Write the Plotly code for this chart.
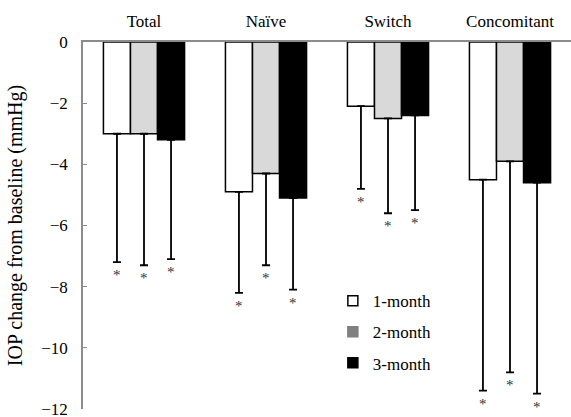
import plotly.graph_objects as go

categories = ["Total", "Naïve", "Switch", "Concomitant"]
series_names = ["1-month", "2-month", "3-month"]

# mean IOP change (mmHg)
month1 = [-3.0, -4.9, -2.1, -4.5]
month2 = [-3.0, -4.3, -2.5, -3.9]
month3 = [-3.2, -5.1, -2.4, -4.6]

# SD (one-sided, downward)
sd1 = [4.2, 3.3, 2.7, 6.9]
sd2 = [4.3, 3.0, 3.1, 6.9]
sd3 = [3.9, 3.0, 3.1, 6.9]

bar_colors = ["#ffffff", "#d9d9d9", "#000000"]
legend_colors = ["#ffffff", "#808080", "#000000"]

W, H = 571, 417
margin = dict(l=83, r=0, t=42, b=8)
bargap = 0.335
font = dict(family="Liberation Serif", size=17, color="#000000")

fig = go.Figure()

values = [month1, month2, month3]
sds = [sd1, sd2, sd3]
for name, vals, sd, col in zip(series_names, values, sds, bar_colors):
    fig.add_trace(go.Bar(
        x=categories, y=vals, name=name, showlegend=False,
        marker=dict(color=col, line=dict(color="#000000", width=1.5)),
        error_y=dict(type="data", symmetric=False, array=[0] * len(vals),
                     arrayminus=sd, color="#000000", thickness=1.8, width=4),
    ))

# legend swatches
for i, (name, col) in enumerate(zip(series_names, legend_colors)):
    fig.add_trace(go.Scatter(
        x=[None], y=[None], mode="markers", name=name, legendgroup=str(i),
        marker=dict(symbol="square", size=10, color=col,
                    line=dict(color="#000000" if i == 0 else col, width=1.5)),
    ))

# asterisks under the error bar ends
cat_px = (W - margin["l"] - margin["r"]) / len(categories)
bar_px = cat_px * (1 - bargap) / 3
for k, (vals, sd) in enumerate(zip(values, sds)):
    for i, cat in enumerate(categories):
        fig.add_annotation(x=cat, y=vals[i] - sd[i], text="*", showarrow=False,
                           xref="x", yref="y", xshift=(k - 1) * bar_px, yshift=-13,
                           font=dict(family="Liberation Serif", size=15, color="#333333"))

fig.update_layout(
    width=W, height=H, margin=margin,
    paper_bgcolor="white", plot_bgcolor="white",
    font=font, barmode="group", bargap=bargap, bargroupgap=0,
    legend=dict(x=0.512, y=0.343, xanchor="left", yanchor="top",
                font=dict(size=17), tracegroupgap=6, bgcolor="rgba(0,0,0,0)"),
    xaxis=dict(side="top", showline=True, linecolor="#8c8c8c", linewidth=1.5,
               ticks="", showgrid=False, zeroline=False, range=[-0.5, 3.5],
               ticklabelstandoff=6, automargin=False),
    yaxis=dict(range=[-12, 0], dtick=2, showline=True, linecolor="#8c8c8c",
               linewidth=1.5, ticks="inside", ticklen=4, tickcolor="#8c8c8c",
               showgrid=False, zeroline=False, ticklabelstandoff=10, automargin=False,
               ticklabeloverflow="allow",
               title=dict(text="IOP change from baseline (mmHg)", standoff=13)),
)

# page body has a default margin; drop it so the figure fills the window
fig.write_html("out.html", config={"displayModeBar": False},
               post_script="document.body.style.margin='0';")
